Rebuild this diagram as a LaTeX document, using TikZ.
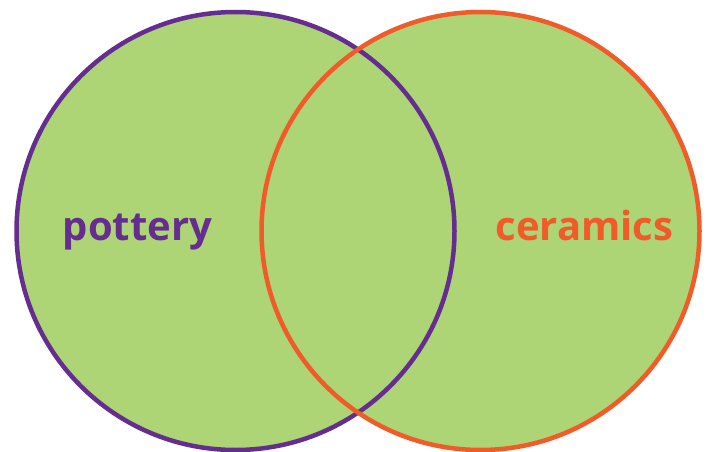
\documentclass[tikz,border=0pt]{standalone}
\usepackage{fontspec}
\setsansfont{Open Sans}
\definecolor{potpurple}{HTML}{662D91}
\definecolor{ceramorange}{HTML}{F15A29}
\definecolor{setgreen}{HTML}{ADD475}

\begin{document}
\begin{tikzpicture}[
  x=1pt,y=1pt,
  font=\sffamily\bfseries,
  setfill/.style={circle,fill=setgreen,minimum size=438pt,inner sep=0pt},
  ring/.style={line width=4.5pt},
  setlabel/.style={font=\sffamily\bfseries\fontsize{40}{40}\selectfont,anchor=base}
]
\useasboundingbox (0,0) rectangle (709,451);
\node[setfill] (pot) at (235.5,220) {};
\node[setfill] (cer) at (480.5,220) {};
\draw[ring,potpurple] (pot.center) circle[radius=219];
\draw[ring,ceramorange] (cer.center) circle[radius=219];
\node[setlabel,text=potpurple] (potlabel) at (137.5,211) {pottery};
\node[setlabel,text=ceramorange] (cerlabel) at (584.5,211) {ceramics};
\end{tikzpicture}
\end{document}
